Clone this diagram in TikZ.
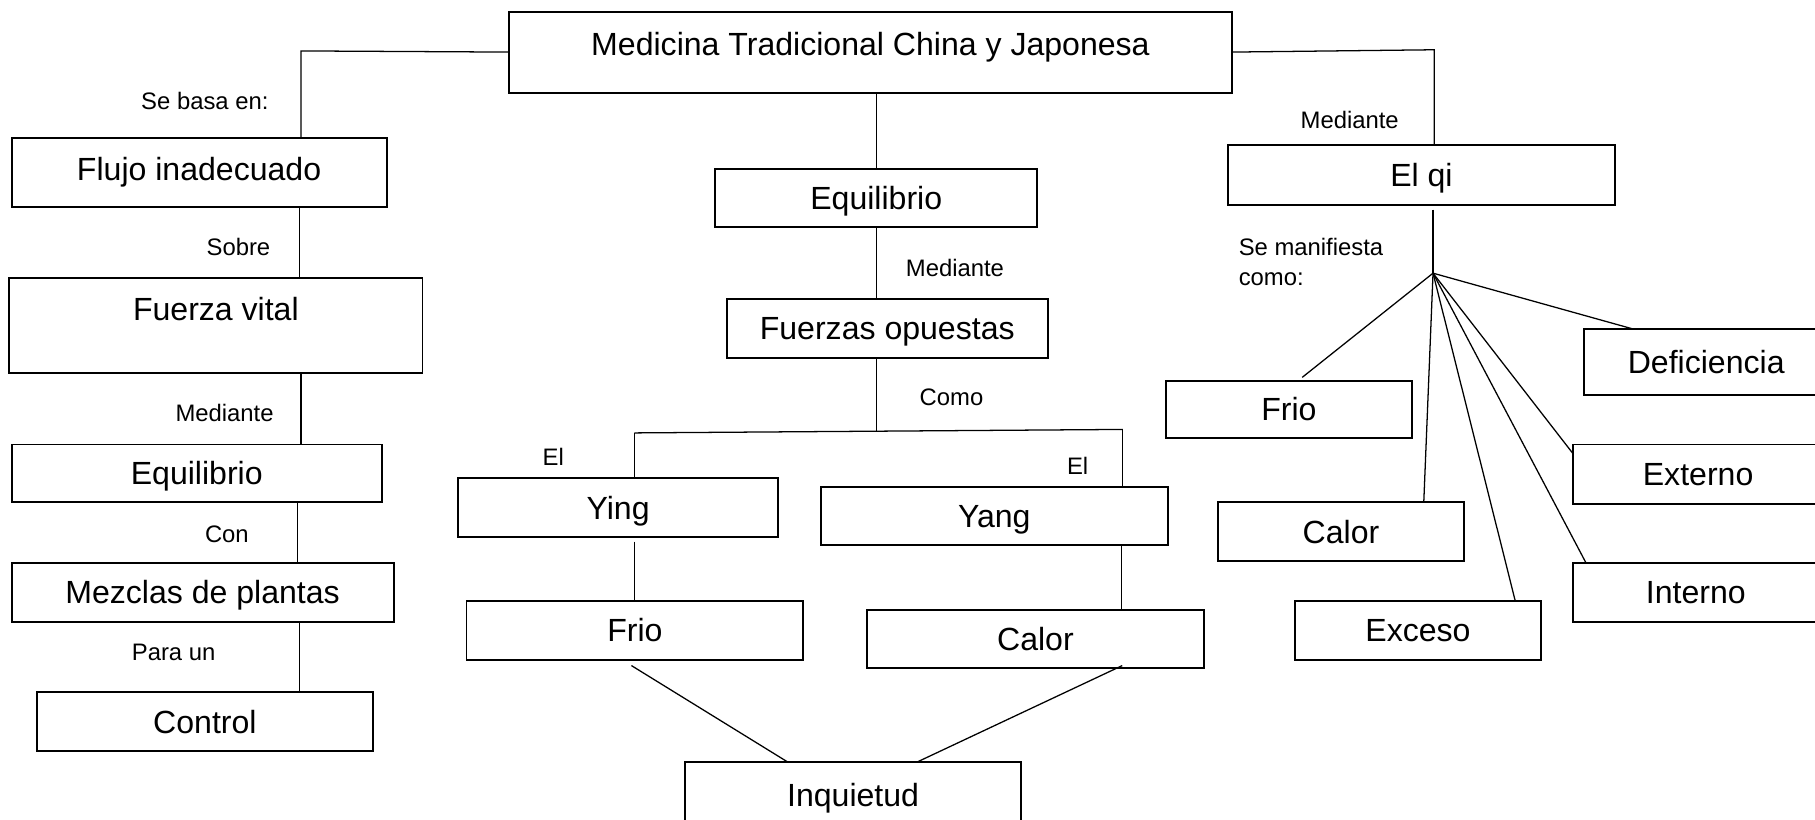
\documentclass[tikz,border=0pt]{standalone}
\usepackage{fontspec}
\setmainfont{Liberation Sans}
\newcommand\bigtxt{\fontsize{27.7}{32}\selectfont}
\newcommand\smtxt{\fontsize{20.6}{24}\selectfont}
\tikzset{
  box/.style={draw, line width=1.7pt, inner sep=0pt, outer sep=0pt, font=\bigtxt, text height=19.8pt, text depth=0pt},
  lbl/.style={inner sep=0pt, font=\smtxt, anchor=base},
  conn/.style={line width=1.1pt},
}
% \bx{name}{x1}{y1}{x2}{y2}{text}
\newcommand\bx[7][]{\node[box, #1, minimum width={(#5)-(#3)}, minimum height={(#6)-(#4)}] (#2) at ({((#3)+(#5))/2},{-((#4)+(#6))/2}) {#7};}
\begin{document}
\begin{tikzpicture}[x=1pt,y=1pt]
\useasboundingbox (0,0) rectangle (1568,-708);
\clip (0,0) rectangle (1568,-708);
\fill[white] (0,0) rectangle (1568,-708);

% top
\bx[text depth=14pt]{top}{440}{10}{1064}{80}{Medicina Tradicional China y Japonesa}

% left column
\bx[text depth=6pt]{flujo}{10}{119}{334}{179}{Flujo inadecuado}
\bx[text depth=28pt]{fuerza}{8}{240}{365}{322}{Fuerza vital}
\bx{eqL}{10}{384}{330}{434}{Equilibrio}
\bx{mezclas}{10}{486}{340}{537}{Mezclas de plantas}
\bx{control}{32}{598}{322}{649}{Control}

% middle column
\bx{eqM}{618}{146}{896}{196}{Equilibrio}
\bx{fuerzas}{628}{258}{905}{309}{Fuerzas opuestas}
\bx{ying}{396}{413}{672}{464}{Ying}
\bx{yang}{709}{421}{1009}{471}{Yang}
\bx{frioM}{403}{519}{694}{570}{Frio}
\bx{calorM}{749}{527}{1040}{577}{Calor}
\bx{inq}{592}{658}{882}{716}{Inquietud}

% right column
\bx{elqi}{1061}{125}{1395}{177}{El qi}
\bx{defi}{1368}{284}{1580}{341}{Deficiencia}
\bx{frioR}{1007}{329}{1220}{378}{Frio}
\bx{externo}{1359}{384}{1575}{435}{Externo}
\bx{calorR}{1052}{434}{1265}{485}{Calor}
\bx{interno}{1359}{486}{1571}{537}{Interno}
\bx{exceso}{1119}{519}{1331}{570}{Exceso}

% labels
\node[lbl] (l1) at (177,-95) {Se basa en:};
\node[lbl] (l2) at (206,-221) {Sobre};
\node[lbl] (l3) at (194,-364) {Mediante};
\node[lbl] (l4) at (196,-469) {Con};
\node[lbl] (l5) at (150,-571) {Para un};
\node[lbl] (l6) at (825,-239) {Mediante};
\node[lbl] (l7) at (822,-350) {Como};
\node[lbl] (l8) at (478,-402) {El};
\node[lbl] (l9) at (931,-410) {El};
\node[lbl] (l10) at (1166,-111) {Mediante};
\node[lbl, anchor=base west] (l11) at (1070,-221) {Se manifiesta};
\node[lbl, anchor=base west] (l12) at (1070,-247) {como:};

% connectors left
\coordinate (cL) at (260,-44);
\draw[conn] (top.west) -- (cL) -- (flujo.north -| cL);
\coordinate (c2) at (259,0);
\draw[conn] (flujo.south -| c2) -- (fuerza.north -| c2);
\coordinate (c3) at (260,0);
\draw[conn] (fuerza.south -| c3) -- (eqL.north -| c3);
\coordinate (c4) at (257,0);
\draw[conn] (eqL.south -| c4) -- (mezclas.north -| c4);
\coordinate (c5) at (259,0);
\draw[conn] (mezclas.south -| c5) -- (control.north -| c5);

% connectors middle
\draw[conn] (top.south -| eqM.north) -- (eqM.north);
\draw[conn] (eqM.south) -- (eqM.south |- fuerzas.north);
\coordinate (split) at (757,-373);
\coordinate (sL) at (548,-374);
\coordinate (sR) at (970,-371);
\draw[conn] (fuerzas.south -| split) -- (split);
\draw[conn] (sL) -- (sR);
\draw[conn] (sL) -- (ying.north -| sL);
\draw[conn] (sR) -- ([yshift=-1pt]yang.north -| sR);
\draw[conn] ([yshift=-4pt]ying.south -| sL) -- (frioM.north -| sL);
\coordinate (c6) at (969,0);
\draw[conn] (yang.south -| c6) -- (calorM.north -| c6);
\draw[conn] ([xshift=-3pt,yshift=-5pt]frioM.south) -- ([xshift=-57pt]inq.north);
\draw[conn] ([xshift=75pt,yshift=2pt]calorM.south) -- ([xshift=56pt]inq.north);

% connectors right
\coordinate (cR) at (1239,-43);
\draw[conn] (top.east) -- (cR) -- (elqi.north -| cR);
\coordinate (hub) at (1238,-236);
\draw[conn] ([yshift=-4pt]elqi.south -| hub) -- (hub);
\draw[conn] (hub) -- ([xshift=11.5pt,yshift=3pt]frioR.north);
\draw[conn] (hub) -- ([xshift=71.5pt]calorR.north);
\draw[conn] (hub) -- ([xshift=84pt]exceso.north);
\draw[conn] (hub) -- ([xshift=11pt]interno.north west);
\draw[conn] (hub) -- ([yshift=-8pt]externo.north west);
\draw[conn] (hub) -- ([xshift=42pt]defi.north west);
\end{tikzpicture}
\end{document}
